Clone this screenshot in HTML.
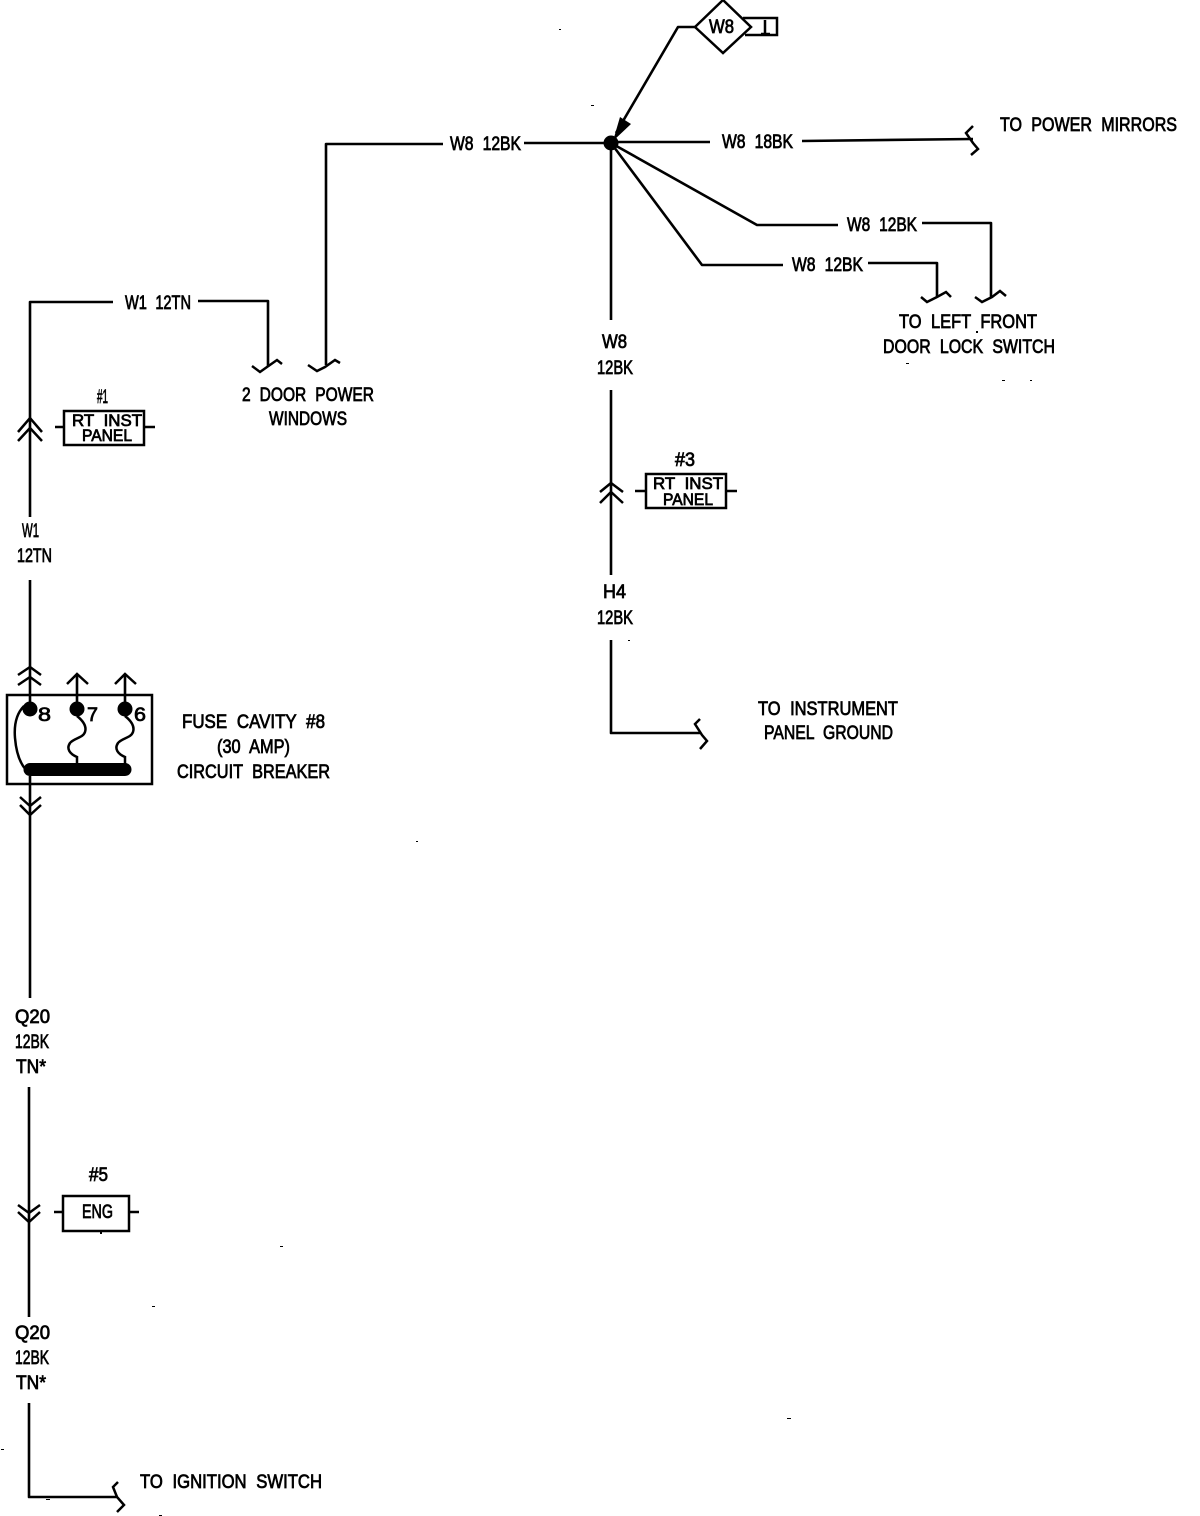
<!DOCTYPE html>
<html><head><meta charset="utf-8"><title>Wiring diagram</title>
<style>
html,body{margin:0;padding:0;background:#fff}
svg{display:block}
text{font-family:"Liberation Sans",sans-serif;fill:#000;stroke:#000;stroke-width:.75px;word-spacing:.3em}
.w{fill:none;stroke:#000;stroke-width:2.6;stroke-linejoin:round}
.t{fill:none;stroke:#000;stroke-width:2.5}
</style></head><body>
<svg width="1200" height="1516" viewBox="0 0 1200 1516" xmlns="http://www.w3.org/2000/svg">
<rect width="1200" height="1516" fill="#fff"/>
<!-- top wires -->
<path class="w" d="M695 27H678L616 133"/>
<path d="M613 141L620 117L631 124Z" fill="#000"/>
<circle cx="611" cy="143" r="7.5"/>
<path class="t" d="M695 27L723 0L751 27L723 53Z"/>
<path class="t" d="M743 18H777V35H745"/>
<path class="t" d="M765 20V33M761 34H770"/>
<path class="w" d="M524 143H611V320"/>
<path class="w" d="M443 144H326V365"/>
<path class="w" d="M611 142H710"/>
<path class="w" d="M802 141L973 139"/>
<path class="t" d="M973 126L966 133L973 143L978 149L971 155"/>
<path class="w" d="M611 143L757 225H838"/>
<path class="w" d="M922 223H991V297"/>
<path class="w" d="M611 143L702 265H783"/>
<path class="w" d="M868 263H937V297"/>
<path class="t" d="M921 297L927 302L937 297L946 292L951 297"/>
<path class="t" d="M975 297L982 302L992 297L1000 291L1006 296"/>
<path class="t" d="M308 365L317 371L325 367L335 360L340 363"/>
<path class="t" d="M252 366L260 372L267 367L277 360L282 364"/>
<path class="w" d="M113 302H30V517"/>
<path class="w" d="M198 301H268V367"/>
<!-- center vertical -->
<path class="w" d="M611 390V575"/>
<path class="w" d="M611 640V733H700"/>
<path class="t" d="M700 719L695 724L702 735L707 741L700 749"/>
<path class="t" d="M600 492L611 483L623 492M600 503L611 492L623 503"/>
<rect class="t" x="646" y="474" width="80" height="34"/>
<path class="t" d="M635 491H645M727 491H737"/>
<!-- left connector 1 -->
<path class="t" d="M18 432L30 418L42 432M18 441L30 428L42 441"/>
<rect class="t" x="64" y="411" width="80" height="34"/>
<path class="t" d="M55 427H63M145 427H155"/>
<!-- fuse block -->
<path class="w" d="M30 580V709"/>
<path class="t" d="M18 675L30 667L41 675M18 685L30 677L41 685"/>
<path class="w" d="M77 675V709M125 675V709"/>
<path class="t" d="M67 684L77 674L88 684M115 684L125 674L136 684"/>
<rect class="t" x="7" y="695" width="145" height="89"/>
<circle cx="30" cy="709" r="7.5"/><circle cx="77" cy="709" r="7.5"/><circle cx="125" cy="709" r="7.5"/>
<path d="M30 769.5H125" stroke="#000" stroke-width="13" stroke-linecap="round" fill="none"/>
<path class="t" d="M24 706C16 714 14 726 15 738C16 750 19 762 26 770"/>
<path class="t" d="M77 716C82 720 87 726 85 732C83 738 74 738 70 743C66 749 70 754 77 757V764"/>
<path class="t" d="M125 716C130 720 135 726 133 732C131 738 122 738 118 743C114 749 118 754 125 757V764"/>
<path class="w" d="M30 776V998"/>
<path class="t" d="M20 797L30 806L41 797M20 805L30 815L41 805"/>
<!-- lower -->
<path class="w" d="M29 1087V1317"/>
<path class="t" d="M18 1205L29 1213L40 1205M18 1212L29 1222L40 1212"/>
<rect class="t" x="63" y="1196" width="66" height="35"/>
<path class="t" d="M54 1212H62M129 1212H139"/>
<path class="w" d="M29 1403V1497H118"/>
<path class="t" d="M118 1482L113 1487L117 1497L124 1505L117 1512"/>
<!-- labels -->
<g font-size="19">
<text x="450" y="150" textLength="71" lengthAdjust="spacingAndGlyphs">W8 12BK</text>
<text x="722" y="148" textLength="71" lengthAdjust="spacingAndGlyphs">W8 18BK</text>
<text x="847" y="231" textLength="70" lengthAdjust="spacingAndGlyphs">W8 12BK</text>
<text x="792" y="271" textLength="71" lengthAdjust="spacingAndGlyphs">W8 12BK</text>
<text x="125" y="309" textLength="66" lengthAdjust="spacingAndGlyphs">W1 12TN</text>
<text x="1000" y="131" textLength="177" lengthAdjust="spacingAndGlyphs">TO POWER MIRRORS</text>
<text x="899" y="328" textLength="138" lengthAdjust="spacingAndGlyphs">TO LEFT FRONT</text>
<text x="883" y="353" textLength="172" lengthAdjust="spacingAndGlyphs">DOOR LOCK SWITCH</text>
<text x="242" y="401" textLength="132" lengthAdjust="spacingAndGlyphs">2 DOOR POWER</text>
<text x="269" y="425" textLength="78" lengthAdjust="spacingAndGlyphs">WINDOWS</text>
<text x="602" y="348" textLength="25" lengthAdjust="spacingAndGlyphs">W8</text>
<text x="597" y="374" textLength="36" lengthAdjust="spacingAndGlyphs">12BK</text>
<text x="603" y="598" textLength="23" lengthAdjust="spacingAndGlyphs">H4</text>
<text x="597" y="624" textLength="36" lengthAdjust="spacingAndGlyphs">12BK</text>
<text x="758" y="715" textLength="140" lengthAdjust="spacingAndGlyphs">TO INSTRUMENT</text>
<text x="764" y="739" textLength="129" lengthAdjust="spacingAndGlyphs">PANEL GROUND</text>
<text x="22" y="537" textLength="17" lengthAdjust="spacingAndGlyphs">W1</text>
<text x="17" y="562" textLength="35" lengthAdjust="spacingAndGlyphs">12TN</text>
<text x="182" y="728" textLength="143" lengthAdjust="spacingAndGlyphs">FUSE CAVITY #8</text>
<text x="217" y="753" textLength="73" lengthAdjust="spacingAndGlyphs">(30 AMP)</text>
<text x="177" y="778" textLength="153" lengthAdjust="spacingAndGlyphs">CIRCUIT BREAKER</text>
<text x="15" y="1023" textLength="35" lengthAdjust="spacingAndGlyphs">Q20</text>
<text x="15" y="1048" textLength="34" lengthAdjust="spacingAndGlyphs">12BK</text>
<text x="16" y="1073" textLength="30" lengthAdjust="spacingAndGlyphs">TN*</text>
<text x="15" y="1339" textLength="35" lengthAdjust="spacingAndGlyphs">Q20</text>
<text x="15" y="1364" textLength="34" lengthAdjust="spacingAndGlyphs">12BK</text>
<text x="16" y="1389" textLength="30" lengthAdjust="spacingAndGlyphs">TN*</text>
<text x="140" y="1488" textLength="182" lengthAdjust="spacingAndGlyphs">TO IGNITION SWITCH</text>
<text x="82" y="1218" textLength="31" lengthAdjust="spacingAndGlyphs">ENG</text>
<text x="89" y="1181" textLength="19" lengthAdjust="spacingAndGlyphs">#5</text>
<text x="675" y="466" textLength="20" lengthAdjust="spacingAndGlyphs">#3</text>
<text x="97" y="403" textLength="11" lengthAdjust="spacingAndGlyphs">#1</text>
<text x="709" y="33" textLength="25" lengthAdjust="spacingAndGlyphs">W8</text>
<text x="38" y="721" textLength="13" lengthAdjust="spacingAndGlyphs">8</text>
<text x="87" y="721" textLength="11" lengthAdjust="spacingAndGlyphs">7</text>
<text x="134" y="721" textLength="12" lengthAdjust="spacingAndGlyphs">6</text>
</g>
<g font-size="16.5">
<text x="72" y="426" textLength="70" lengthAdjust="spacingAndGlyphs">RT INST</text>
<text x="82" y="441" textLength="50" lengthAdjust="spacingAndGlyphs">PANEL</text>
<text x="653" y="489" textLength="70" lengthAdjust="spacingAndGlyphs">RT INST</text>
<text x="663" y="505" textLength="50" lengthAdjust="spacingAndGlyphs">PANEL</text>
</g>
<!-- speckles -->
<g fill="#000">
<rect x="559" y="29" width="2" height="1"/><rect x="591" y="105" width="3" height="1"/>
<rect x="416" y="841" width="2" height="1"/><rect x="280" y="1246" width="3" height="1"/>
<rect x="152" y="1306" width="3" height="1"/><rect x="787" y="1418" width="4" height="1"/>
<rect x="1" y="1449" width="3" height="1"/><rect x="159" y="1515" width="3" height="1"/>
<rect x="46" y="1499" width="4" height="1"/><rect x="100" y="1232" width="2" height="2"/>
<rect x="976" y="331" width="2" height="2"/><rect x="906" y="363" width="3" height="1"/>
<rect x="1002" y="380" width="3" height="1"/><rect x="1030" y="380" width="2" height="1"/>
<rect x="628" y="640" width="2" height="1"/>
</g>
</svg>
</body></html>
